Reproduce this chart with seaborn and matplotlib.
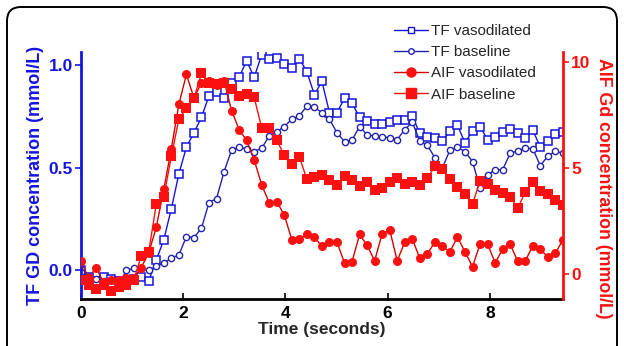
import numpy as np
import matplotlib
matplotlib.use('Agg')
import matplotlib.pyplot as plt
from matplotlib.patches import FancyBboxPatch
from matplotlib.lines import Line2D
import seaborn as sns

dt = 0.1473
tf_vasodilated = [0.00, -0.03, -0.05, -0.03, -0.04, -0.05, -0.06, -0.04, -0.03, -0.05,
                  0.05, 0.15, 0.30, 0.47, 0.60, 0.67, 0.745, 0.85, 0.87, 0.84,
                  0.91, 0.94, 1.02, 0.94, 1.05, 1.03, 1.035, 1.005, 0.985, 1.03,
                  0.967, 0.855, 0.92, 0.768, 0.768, 0.838, 0.815, 0.745, 0.727, 0.713,
                  0.713, 0.72, 0.732, 0.73, 0.75, 0.668, 0.651, 0.643, 0.63, 0.678,
                  0.708, 0.62, 0.68, 0.70, 0.637, 0.65, 0.672, 0.689, 0.67, 0.643,
                  0.684, 0.60, 0.63, 0.665, 0.675]
tf_baseline = [-0.01, -0.03, -0.04, -0.05, -0.07, -0.07, 0.00, 0.01, 0.01, 0.00,
               0.02, 0.035, 0.06, 0.075, 0.165, 0.16, 0.205, 0.33, 0.35, 0.48,
               0.586, 0.60, 0.59, 0.578, 0.595, 0.654, 0.675, 0.70, 0.736, 0.752,
               0.80, 0.794, 0.768, 0.736, 0.67, 0.627, 0.635, 0.70, 0.66, 0.654,
               0.651, 0.645, 0.637, 0.685, 0.722, 0.63, 0.61, 0.548, 0.50, 0.585,
               0.60, 0.578, 0.53, 0.40, 0.465, 0.49, 0.49, 0.57, 0.582, 0.595,
               0.593, 0.51, 0.556, 0.58, 0.57]
aif_vasodilated = [0.6, -0.2, 0.3, -0.4, -0.3, -0.3, -0.2, -0.2, 0.3, 1.0,
                   2.2, 4.0, 5.9, 8.0, 9.4, 8.3, 9.0, 9.1, 8.9, 9.1,
                   7.7, 6.8, 6.3, 5.37, 4.2, 3.35, 3.4, 2.78, 1.62, 1.65,
                   1.86, 1.73, 1.3, 1.5, 1.5, 0.52, 0.58, 1.86, 1.35, 0.62,
                   1.9, 2.08, 0.62, 1.5, 1.65, 0.74, 0.95, 1.5, 1.3, 1.05,
                   1.73, 1.05, 0.34, 1.41, 1.41, 0.53, 1.16, 1.41, 0.6, 0.6,
                   1.33, 1.16, 0.8, 0.98, 1.6]
aif_baseline = [-0.3, -0.5, -0.7, -0.5, -0.8, -0.6, -0.5, -0.3, 0.85, 1.05,
                3.3, 3.64, 5.55, 7.3, 7.8, 8.28, 9.45, 9.0, 8.95, 8.98,
                8.72, 8.4, 8.5, 8.33, 6.88, 6.9, 6.3, 5.6, 5.2, 5.53,
                4.46, 4.58, 4.68, 4.45, 4.17, 4.62, 4.42, 4.15, 4.35, 3.96,
                4.05, 4.35, 4.51, 4.24, 4.35, 4.17, 4.5, 5.08, 4.95, 4.46,
                4.08, 3.75, 3.3, 4.38, 4.26, 3.94, 3.8, 3.64, 3.1, 3.85,
                4.33, 3.9, 3.75, 3.5, 3.25]
time_s = np.arange(len(tf_vasodilated)) * dt

blue = '#1414e0'
navy = '#2222b0'
red_dark = '#d40000'
red = '#ff1010'

sns.set_style('white')
plt.rcParams['font.family'] = ['Liberation Sans', 'DejaVu Sans']

fig = plt.figure(figsize=(6.24, 3.46), dpi=100)
ax = fig.add_axes([81 / 624, 1 - 299 / 346, (563 - 81) / 624, (299 - 52) / 346])
ax2 = ax.twinx()

# --- TF curves on the left axis ---
sns.lineplot(x=time_s, y=tf_vasodilated, ax=ax, color=blue, lw=1.0, marker='s', ms=5.5,
             markerfacecolor='white', markeredgecolor=blue, markeredgewidth=1.1)
sns.lineplot(x=time_s, y=tf_baseline, ax=ax, color=navy, lw=1.0, marker='o', ms=4.5,
             markerfacecolor='white', markeredgecolor=navy, markeredgewidth=1.0)

# --- AIF curves on the right axis ---
sns.lineplot(x=time_s, y=aif_vasodilated, ax=ax2, color=red_dark, lw=1.0, marker='o', ms=6.5,
             markerfacecolor=red, markeredgecolor=red, markeredgewidth=0)
sns.lineplot(x=time_s, y=aif_baseline, ax=ax2, color=red, lw=1.0, marker='s', ms=6.5,
             markerfacecolor=red, markeredgecolor=red, markeredgewidth=0)

ax.set_xlim(0, 9.43)
ax.set_ylim(-0.139, 1.063)
ax2.set_ylim(-1.18, 10.46)

ax.set_xticks([0, 2, 4, 6, 8])
ax.set_yticks([0.0, 0.5, 1.0])
ax.set_yticklabels(['0.0', '0.5', '1.0'])
ax2.set_yticks([0, 5, 10])

for s in ['top']:
    ax.spines[s].set_visible(False)
    ax2.spines[s].set_visible(False)
ax.spines['bottom'].set_color('black')
ax.spines['bottom'].set_linewidth(2)
ax2.spines['bottom'].set_visible(False)
ax.spines['left'].set_color(blue)
ax.spines['left'].set_linewidth(2)
ax2.spines['left'].set_visible(False)
ax.spines['right'].set_visible(False)
ax2.spines['right'].set_color(red)
ax2.spines['right'].set_linewidth(2)

ax.tick_params(axis='x', direction='in', length=4, width=1.2, colors='black',
               labelsize=12.5, pad=5, bottom=True)
ax.tick_params(axis='y', direction='out', length=4, width=1.2, colors=blue,
               labelsize=12.5, pad=2, left=True)
ax2.tick_params(axis='y', direction='out', length=4, width=1.2, colors=red,
                labelsize=12.5, pad=2, right=True)
for lab in ax.get_xticklabels() + ax.get_yticklabels() + ax2.get_yticklabels():
    lab.set_fontweight('bold')

ax.set_xlabel('Time (seconds)', fontsize=12.5, fontweight='bold', labelpad=1)
ax.set_ylabel('TF GD concentration (mmol/L)', fontsize=13, fontweight='bold',
              color=blue, labelpad=3)
ax2.set_ylabel('AIF Gd concentration (mmol/L)', fontsize=12.8, fontweight='bold',
               color=red, rotation=270, va='center', ha='center')
ax2.yaxis.set_label_coords(1.085, 0.45)

handles = [
    Line2D([], [], color=blue, lw=1.0, marker='s', ms=5, mfc='white', mec=blue),
    Line2D([], [], color=navy, lw=1.0, marker='o', ms=4, mfc='white', mec=navy),
    Line2D([], [], color=red_dark, lw=1.0, marker='o', ms=6.5, mfc=red, mec=red),
    Line2D([], [], color=red, lw=1.0, marker='s', ms=6.5, mfc=red, mec=red),
]
labels = ['TF vasodilated', 'TF baseline', 'AIF vasodilated', 'AIF baseline']
fig.legend(handles, labels, loc='upper left', bbox_to_anchor=(388 / 624, 1 - 18 / 346),
           frameon=False, fontsize=11, handlelength=2.2, handletextpad=0.2,
           labelspacing=0.47, numpoints=1, borderaxespad=0)

# rounded frame around the panel
frame = FancyBboxPatch((7, -30), 610, 339 + 30, boxstyle='round,pad=0,rounding_size=14',
                       transform=None, fill=False, edgecolor='black', lw=1.4)
fig.patches.append(frame)

fig.savefig('out.png', dpi=100)
